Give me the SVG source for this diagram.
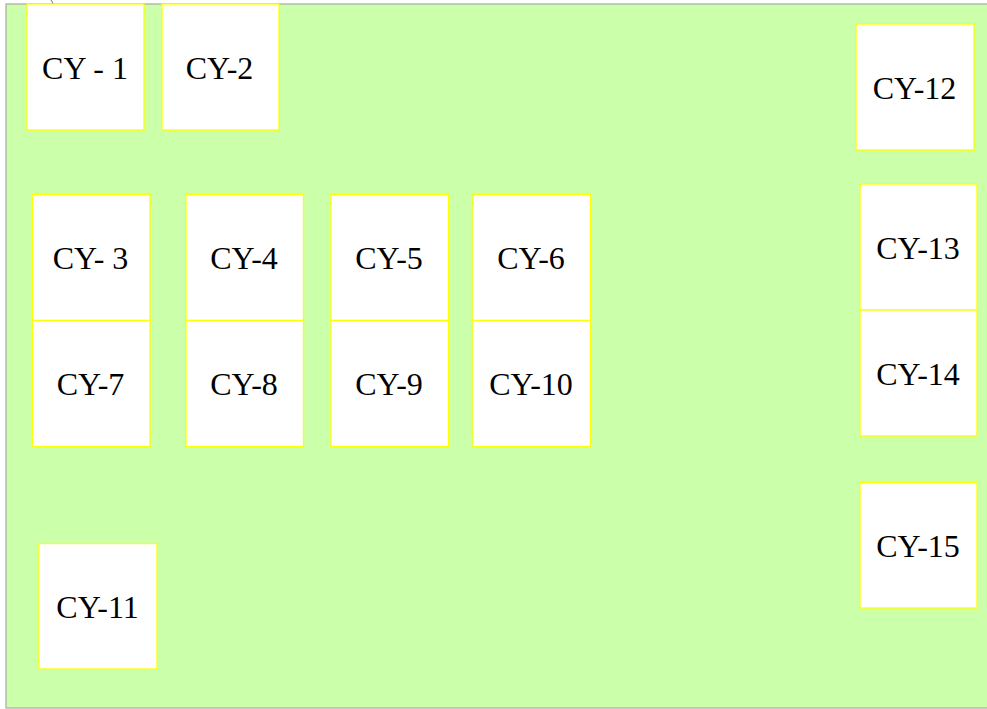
<svg xmlns="http://www.w3.org/2000/svg" width="987" height="709" viewBox="0 0 987 709">
<style>
.bg{fill:#ccffaa;stroke:#a8a8a8;stroke-width:1.2}
.box{fill:#ffffff;stroke:#ffff00;stroke-width:1.3}
.lbl{font-family:"Liberation Serif","Times New Roman",serif;font-size:32px;fill:#000;text-anchor:middle}
</style>
<rect class="bg" x="6" y="4" width="995" height="704"/>
<g id="connectors"><path d="M51,0 Q52.5,2 53,4" fill="none" stroke="#777" stroke-width="1"/></g>
<g id="cy1"><rect class="box" x="27" y="4" width="117" height="126"/><text class="lbl" x="85" y="79">CY - 1</text></g>
<g id="cy2"><rect class="box" x="162" y="4" width="117" height="126"/><text class="lbl" x="219.5" y="79">CY-2</text></g>
<g id="cy12"><rect class="box" x="856" y="24" width="118" height="126"/><text class="lbl" x="914.5" y="99">CY-12</text></g>
<g id="cy3"><rect class="box" x="32.5" y="194.5" width="117.5" height="126"/><text class="lbl" x="90.5" y="269">CY- 3</text></g>
<g id="cy4"><rect class="box" x="186" y="194.5" width="117.5" height="126"/><text class="lbl" x="244" y="269">CY-4</text></g>
<g id="cy5"><rect class="box" x="331" y="194.5" width="117.5" height="126"/><text class="lbl" x="389" y="269">CY-5</text></g>
<g id="cy6"><rect class="box" x="473" y="194.5" width="117.5" height="126"/><text class="lbl" x="531" y="269">CY-6</text></g>
<g id="cy7"><rect class="box" x="32.5" y="320.5" width="117.5" height="126"/><text class="lbl" x="90.5" y="395">CY-7</text></g>
<g id="cy8"><rect class="box" x="186" y="320.5" width="117.5" height="126"/><text class="lbl" x="244" y="395">CY-8</text></g>
<g id="cy9"><rect class="box" x="331" y="320.5" width="117.5" height="126"/><text class="lbl" x="389" y="395">CY-9</text></g>
<g id="cy10"><rect class="box" x="473" y="320.5" width="117.5" height="126"/><text class="lbl" x="531" y="395">CY-10</text></g>
<g id="cy13"><rect class="box" x="860" y="184" width="117" height="126"/><text class="lbl" x="918" y="259">CY-13</text></g>
<g id="cy14"><rect class="box" x="860" y="310" width="117" height="126"/><text class="lbl" x="918" y="385">CY-14</text></g>
<g id="cy15"><rect class="box" x="860" y="482.5" width="117" height="125.5"/><text class="lbl" x="918" y="557">CY-15</text></g>
<g id="cy11"><rect class="box" x="39" y="543.5" width="118" height="125.5"/><text class="lbl" x="97.5" y="618">CY-11</text></g>
</svg>
